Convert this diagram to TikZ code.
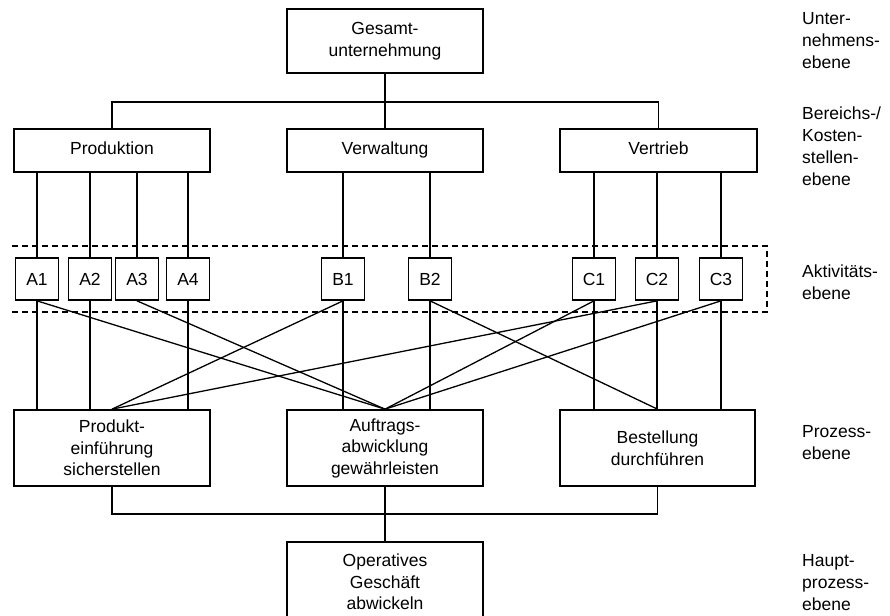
\documentclass[tikz,border=0pt]{standalone}
\usepackage{fontspec}
\setmainfont{Liberation Sans}
\begin{document}
\begin{tikzpicture}[x=1pt,y=-1pt,
  box/.style={draw, line width=1.7pt, inner sep=0pt, align=center,
    font=\fontsize{17.5}{21.5}\selectfont},
  big/.style={box, minimum width=196pt},
  act/.style={box, minimum width=43pt, minimum height=42pt},
  lbl/.style={anchor=west, align=left, inner sep=0pt,
    font=\fontsize{17.5}{22}\selectfont},
  conn/.style={line width=1.3pt},
  zone/.style={line width=1.4pt, dash pattern=on 6pt off 4pt}]
\useasboundingbox (0,0) rectangle (890,615);
\clip (0,0) rectangle (890,615);
\fill[white] (0,0) rectangle (890,615);

% top levels
\node[big, minimum height=64pt] (ges) at (385,41) {Gesamt-\\unternehmung};
\node[big, minimum height=43pt] (prod) at (112,150.5) {\strut Produktion};
\node[big, minimum height=43pt] (verw) at (385,150.5) {\strut Verwaltung};
\node[big, minimum height=43pt, minimum width=197pt] (vert) at (658.5,150.5) {\strut Vertrieb};

% activities
\node[act] (A1) at (37,279) {A1};
\node[act] (A2) at (90,279) {A2};
\node[act] (A3) at (137,279) {A3};
\node[act] (A4) at (188,279) {A4};
\node[act] (B1) at (343,279) {B1};
\node[act] (B2) at (430,279) {B2};
\node[act] (C1) at (594,279) {C1};
\node[act] (C2) at (657,279) {C2};
\node[act] (C3) at (721,279) {C3};

% processes
\node[big, minimum height=76pt] (pe) at (112,448) {Produkt-\\einführung\\sicherstellen};
\node[big, minimum height=76pt] (aa) at (385,448) {Auftrags-\\abwicklung\\gewährleisten};
\node[big, minimum height=76pt, minimum width=195pt] (bd) at (657.5,448) {Bestellung\\durchführen};

% main process
\node[big, minimum height=80pt] (og) at (385,582) {Operatives\\Geschäft\\abwickeln};

% level labels
\node[lbl] (l1) at (802,41) {Unter-\\nehmens-\\ebene};
\node[lbl] (l2) at (802,146) {Bereichs-/\\Kosten-\\stellen-\\ebene};
\node[lbl] (l3) at (802,282) {Aktivitäts-\\ebene};
\node[lbl] (l4) at (802,443) {Prozess-\\ebene};
\node[lbl] (l5) at (802,583) {Haupt-\\prozess-\\ebene};

% activity zone
\draw[zone] (12,246) -- (767,246) -- (767,312) -- (12,312);

% tree on top
\coordinate (tj) at (385,102);
\draw[conn] (ges.south) -- (verw.north);
\draw[conn] (prod.north) |- (tj) -| (vert.north);

% departments to activities
\foreach \a in {A1,A2,A3,A4}
  \draw[conn] (\a.north |- prod.south) -- (\a.north);
\foreach \a in {B1,B2}
  \draw[conn] (\a.north |- verw.south) -- (\a.north);
\foreach \a in {C1,C2,C3}
  \draw[conn] (\a.north |- vert.south) -- (\a.north);

% activities straight down to processes
\foreach \a in {A1,A2,A4}
  \draw[conn] (\a.south) -- (\a.south |- pe.north);
\foreach \a in {B1,B2}
  \draw[conn] (\a.south) -- (\a.south |- aa.north);
\foreach \a in {C1,C2,C3}
  \draw[conn] (\a.south) -- (\a.south |- bd.north);

% crossing connectors
\draw[conn] (A1.south) -- (aa.north);
\draw[conn] (A3.south) -- (aa.north);
\draw[conn] (C1.south) -- (aa.north);
\draw[conn] (C3.south) -- (aa.north);
\draw[conn] (B1.south) -- (pe.north);
\draw[conn] (C2.south) -- (pe.north);
\draw[conn] (B2.south) -- (bd.north);

% processes to main process
\coordinate (bj) at (385,514);
\draw[conn] (pe.south) |- (bj) -| (bd.south);
\draw[conn] (aa.south) -- (og.north);
\end{tikzpicture}
\end{document}
